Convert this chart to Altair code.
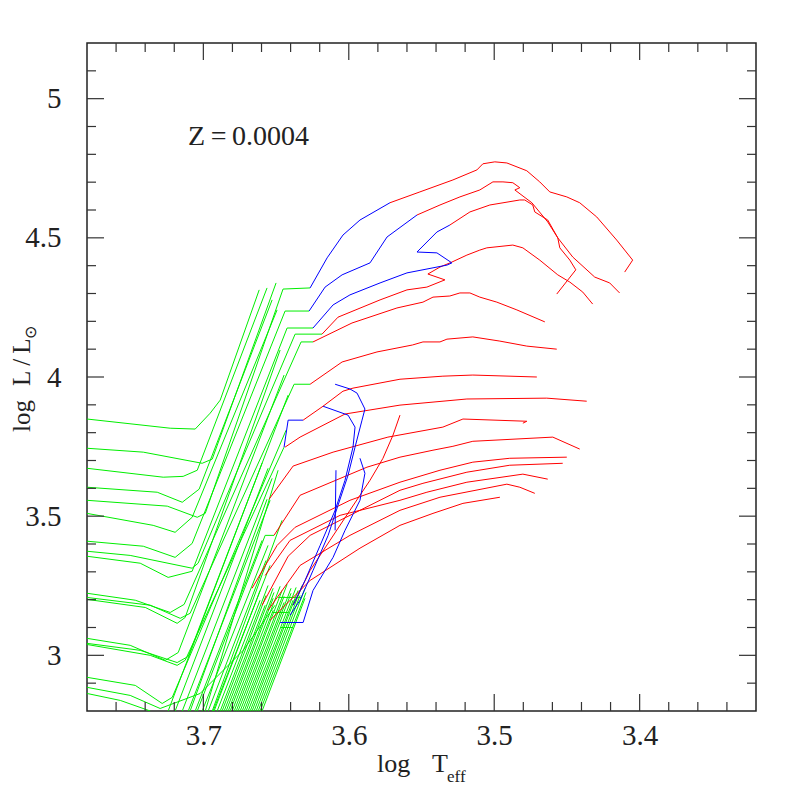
import altair as alt
import pandas as pd

# ---------------- axis values ----------------
X_MAJOR = [3.4, 3.5, 3.6, 3.7]
X_MINOR = [3.34, 3.36, 3.38, 3.42, 3.44, 3.46, 3.48, 3.52, 3.54, 3.56, 3.58,
           3.62, 3.64, 3.66, 3.68, 3.72, 3.74, 3.76]
Y_MAJOR = [3.0, 3.5, 4.0, 4.5, 5.0]
Y_MINOR = [2.9, 3.1, 3.2, 3.3, 3.4, 3.6, 3.7, 3.8, 3.9, 4.1, 4.2, 4.3, 4.4,
           4.6, 4.7, 4.8, 4.9, 5.1]

# ---------------- green: core-He-burning + early-AGB tracks (logTeff, logL) ----------------
G_HB1 = [(3.78, 3.849), (3.7228, 3.816), (3.7056, 3.813), (3.6953, 3.870), (3.6884, 3.917), (3.6616, 4.313)]
G_HB2 = [(3.78, 3.744), (3.7413, 3.730), (3.7008, 3.690), (3.6939, 3.705), (3.6500, 4.338)]
G_HB3 = [(3.78, 3.672), (3.7276, 3.640), (3.7139, 3.643), (3.7042, 3.665), (3.6562, 4.320)]
G_HB4 = [(3.78, 3.604), (3.7317, 3.586), (3.7145, 3.550), (3.7029, 3.597), (3.6527, 4.277)]
G_HB5 = [(3.78, 3.557), (3.7248, 3.536), (3.7042, 3.496), (3.6987, 3.510), (3.6452, 4.316), (3.6266, 4.320)]
G_HB6 = [(3.78, 3.510), (3.7345, 3.467), (3.7194, 3.442), (3.7077, 3.496), (3.6493, 4.241)]
G_HB7 = [(3.78, 3.410), (3.7413, 3.392), (3.7194, 3.352), (3.7077, 3.402), (3.6438, 4.237), (3.6273, 4.237)]
G_HB8 = [(3.78, 3.374), (3.7503, 3.359), (3.7077, 3.313), (3.7036, 3.331), (3.6369, 4.154), (3.6184, 4.154)]
G_HB9 = [(3.78, 3.356), (3.7434, 3.331), (3.7242, 3.280), (3.7077, 3.302), (3.6424, 4.176), (3.6246, 4.176)]
G_HB10 = [(3.78, 3.223), (3.7468, 3.198), (3.7228, 3.154), (3.7132, 3.183), (3.6328, 4.126), (3.6246, 4.126)]
G_HB11 = [(3.78, 3.208), (3.7365, 3.180), (3.7159, 3.133), (3.7091, 3.151), (3.6376, 3.974), (3.6266, 3.974)]
G_HB12 = [(3.78, 3.201), (3.7399, 3.172), (3.7180, 3.115), (3.7125, 3.136), (3.6472, 4.097)]
G_HB13 = [(3.78, 3.061), (3.7503, 3.036), (3.7262, 2.982), (3.7173, 3.010), (3.6445, 4.007)]
G_HB14 = [(3.78, 3.043), (3.7434, 3.018), (3.7180, 2.974), (3.7104, 2.996), (3.6417, 3.935)]
G_HB15 = [(3.78, 3.039), (3.7365, 3.000), (3.7180, 2.964), (3.7125, 2.982), (3.6445, 3.748)]
G_HB16 = [(3.78, 2.921), (3.7468, 2.892), (3.7283, 2.827), (3.7214, 2.849), (3.6431, 3.809)]
G_HB17 = [(3.78, 2.885), (3.7503, 2.856), (3.7297, 2.809), (3.7022, 2.863), (3.6726, 3.018), (3.6507, 3.180)]
G_HB18 = [(3.78, 2.863), (3.7571, 2.838), (3.7365, 2.800)]
# long early-AGB lines entering from the bottom edge
G_LB1 = [(3.7091, 2.800), (3.6562, 3.561)]
G_LB2 = [(3.7042, 2.800), (3.6575, 3.431), (3.6514, 3.431)]
G_LB3 = [(3.6987, 2.800), (3.6486, 3.665)]
G_LB4 = [(3.6939, 2.800), (3.6459, 3.485)]
G_LB5 = [(3.7242, 2.800), (3.6596, 3.691)]
G_LB6 = [(3.7194, 2.800), (3.6555, 3.672)]
G_LB7 = [(3.7145, 2.800), (3.6527, 3.636)]
G_LB8 = [(3.7104, 2.800), (3.6541, 3.557)]
G_LB9 = [(3.7056, 2.800), (3.6596, 3.413)]
G_LB10 = [(3.7008, 2.800), (3.6555, 3.395)]
G_LB11 = [(3.6967, 2.800), (3.6569, 3.341)]
G_LB12 = [(3.6933, 2.800), (3.6541, 3.323)]
G_H1 = [(3.6486, 3.208), (3.6321, 3.208)]
G_H2 = [(3.6527, 3.154), (3.6417, 3.154)]
G_H3 = [(3.6472, 3.100), (3.6383, 3.100)]

# red-giant-branch bundle: start at the bottom edge, end at the tip
RGB_BOTTOM_T = [3.6926, 3.6905, 3.6884, 3.6871, 3.6857, 3.6843, 3.6829, 3.6816, 3.6802, 3.6788,
                3.6774, 3.6761, 3.6747, 3.6733, 3.6719, 3.6706, 3.6692, 3.6678, 3.6665, 3.6651,
                3.6637, 3.6623, 3.6610, 3.6596]
RGB_TIP_T = [3.6610, 3.6610, 3.6555, 3.6569, 3.6575, 3.6520, 3.6514, 3.6520, 3.6472, 3.6520,
             3.6459, 3.6424, 3.6445, 3.6445, 3.6397, 3.6397, 3.6362, 3.6383, 3.6349, 3.6321,
             3.6335, 3.6301, 3.6294, 3.6301]
RGB_TIP_L = [3.233, 3.198, 3.251, 3.215, 3.180, 3.241, 3.226, 3.205, 3.248, 3.162,
             3.233, 3.255, 3.212, 3.190, 3.241, 3.223, 3.244, 3.198, 3.233, 3.251,
             3.215, 3.241, 3.226, 3.205]

# ---------------- red: TP-AGB (O-rich) ----------------
R1 = [(3.5717, 4.626), (3.5511, 4.665), (3.5284, 4.708), (3.5119, 4.744), (3.5078, 4.766), (3.4996, 4.773),
      (3.4913, 4.769), (3.4776, 4.741), (3.4687, 4.701), (3.4618, 4.665), (3.4501, 4.647), (3.4412, 4.626),
      (3.4295, 4.575), (3.4158, 4.492), (3.4048, 4.420), (3.4103, 4.377)]
R2 = [(3.5531, 4.582), (3.5373, 4.618), (3.5236, 4.647), (3.5099, 4.672), (3.5009, 4.701), (3.4940, 4.701),
      (3.4872, 4.698), (3.4824, 4.680), (3.4858, 4.672), (3.4741, 4.626), (3.4632, 4.557), (3.4563, 4.500),
      (3.4460, 4.431), (3.4309, 4.359), (3.4206, 4.338), (3.4138, 4.302)]
R3 = [(3.5305, 4.546), (3.5167, 4.593), (3.5030, 4.618), (3.4824, 4.636), (3.4790, 4.636), (3.4735, 4.618),
      (3.4721, 4.593), (3.4632, 4.564), (3.4563, 4.500), (3.4549, 4.464), (3.4480, 4.420), (3.4439, 4.385),
      (3.4570, 4.298)]
R4 = [(3.6184, 4.154), (3.6074, 4.215), (3.5785, 4.277), (3.5600, 4.313), (3.5463, 4.323), (3.5339, 4.349),
      (3.5456, 4.370), (3.5373, 4.395), (3.5291, 4.413), (3.5188, 4.438), (3.5099, 4.456), (3.5051, 4.464),
      (3.4872, 4.474), (3.4803, 4.464), (3.4687, 4.420), (3.4563, 4.367), (3.4480, 4.341), (3.4391, 4.305),
      (3.4323, 4.262)]
R5 = [(3.6246, 4.126), (3.5978, 4.194), (3.5669, 4.248), (3.5490, 4.269), (3.5421, 4.287), (3.5305, 4.291),
      (3.5236, 4.302), (3.5167, 4.302), (3.5099, 4.287), (3.4982, 4.269), (3.4844, 4.241), (3.4652, 4.198)]
R6 = [(3.6266, 3.974), (3.6046, 4.054), (3.5806, 4.090), (3.5562, 4.115), (3.5490, 4.126), (3.5373, 4.126),
      (3.5325, 4.136), (3.5147, 4.144), (3.4961, 4.129), (3.4776, 4.111), (3.4570, 4.100)]
R7 = [(3.6314, 3.845), (3.6177, 3.895), (3.6040, 3.949), (3.5971, 3.960), (3.5648, 3.992), (3.5353, 4.003),
      (3.5147, 4.007), (3.4707, 4.000)]
R8 = [(3.6438, 3.748), (3.6335, 3.784), (3.6026, 3.867), (3.5648, 3.899), (3.5188, 3.921), (3.4639, 3.924),
      (3.4364, 3.913)]
R9 = [(3.6548, 3.561), (3.6383, 3.680), (3.6108, 3.730), (3.5731, 3.784), (3.5353, 3.820), (3.5215, 3.849),
      (3.4776, 3.841), (3.4803, 3.834)]
R10 = [(3.6514, 3.431), (3.6335, 3.575), (3.5875, 3.676), (3.5648, 3.712), (3.5421, 3.737), (3.5284, 3.751),
       (3.5147, 3.769), (3.4597, 3.784), (3.4412, 3.741)]
R11 = [(3.6665, 3.241), (3.6493, 3.395), (3.6369, 3.460), (3.5992, 3.557), (3.5648, 3.622), (3.5373, 3.665),
       (3.5147, 3.694), (3.4893, 3.708), (3.4501, 3.712)]
R12 = [(3.6596, 3.180), (3.6417, 3.356), (3.6266, 3.431), (3.5923, 3.521), (3.5648, 3.593), (3.5490, 3.618),
       (3.5188, 3.658), (3.4893, 3.683), (3.4529, 3.690)]
R13 = [(3.6575, 3.287), (3.6404, 3.413), (3.6060, 3.503), (3.5648, 3.557), (3.5463, 3.586), (3.5188, 3.622),
       (3.4803, 3.651), (3.4632, 3.633)]
R14 = [(3.6555, 3.162), (3.6335, 3.323), (3.5992, 3.431), (3.5648, 3.521), (3.5373, 3.568), (3.4913, 3.615),
       (3.4824, 3.604), (3.4721, 3.582)]
R15 = [(3.6541, 3.126), (3.6266, 3.269), (3.5923, 3.385), (3.5648, 3.467), (3.5421, 3.510), (3.5215, 3.546),
       (3.4961, 3.568)]
R16 = [(3.5648, 3.863), (3.5696, 3.791), (3.5765, 3.708), (3.5854, 3.629), (3.5992, 3.521), (3.6129, 3.413),
       (3.6266, 3.305), (3.6383, 3.180)]

# ---------------- blue: TP-AGB (C-rich) ----------------
B1 = [(3.6266, 4.320), (3.6149, 4.428), (3.6040, 4.510), (3.5923, 4.564), (3.5717, 4.626)]
B2 = [(3.6273, 4.237), (3.6163, 4.323), (3.6046, 4.367), (3.5854, 4.410), (3.5737, 4.503), (3.5531, 4.582)]
B3 = [(3.6246, 4.176), (3.6108, 4.259), (3.5992, 4.295), (3.5785, 4.338), (3.5600, 4.374), (3.5325, 4.402),
      (3.5291, 4.410), (3.5394, 4.446), (3.5531, 4.449), (3.5394, 4.521), (3.5305, 4.546)]
B4 = [(3.6445, 3.748), (3.6417, 3.845), (3.6314, 3.845)]
B5 = [(3.6094, 3.974), (3.5992, 3.957), (3.5943, 3.942), (3.5889, 3.885), (3.5909, 3.845), (3.5957, 3.748),
      (3.6005, 3.647), (3.6074, 3.539), (3.6142, 3.431), (3.6246, 3.305), (3.6335, 3.198), (3.6404, 3.144)]
B6 = [(3.6177, 3.895), (3.6005, 3.863), (3.5957, 3.820), (3.5971, 3.748), (3.6026, 3.629), (3.6094, 3.521),
      (3.6197, 3.395), (3.6301, 3.269), (3.6383, 3.180)]
B7 = [(3.5923, 3.708), (3.5889, 3.654), (3.5923, 3.557), (3.6026, 3.449), (3.6108, 3.352), (3.6246, 3.233),
      (3.6314, 3.118), (3.6472, 3.118)]
B8 = [(3.6088, 3.665), (3.6094, 3.449)]

GREEN = [G_HB1, G_HB2, G_HB3, G_HB4, G_HB5, G_HB6, G_HB7, G_HB8, G_HB9, G_HB10, G_HB11, G_HB12,
         G_HB13, G_HB14, G_HB15, G_HB16, G_HB17, G_HB18, G_LB1, G_LB2, G_LB3, G_LB4, G_LB5, G_LB6,
         G_LB7, G_LB8, G_LB9, G_LB10, G_LB11, G_LB12, G_H1, G_H2, G_H3]
for bt, tt, tl in zip(RGB_BOTTOM_T, RGB_TIP_T, RGB_TIP_L):
    GREEN.append([(bt, 2.8), (tt, tl)])
RED = [R1, R2, R3, R4, R5, R6, R7, R8, R9, R10, R11, R12, R13, R14, R15, R16]
BLUE = [B1, B2, B3, B4, B5, B6, B7, B8]


def to_frame(tracks, prefix):
    rows = []
    for k, tr in enumerate(tracks):
        for i, (t, l) in enumerate(tr):
            rows.append({"track": f"{prefix}{k}", "i": i, "T": t, "L": l})
    return pd.DataFrame(rows)


W, H = 669, 668
XS = alt.Scale(domain=[3.32, 3.78], reverse=True, nice=False, zero=False)
YS = alt.Scale(domain=[2.8, 5.2], nice=False, zero=False)
FONT = "Liberation Serif"
AX_X = alt.Axis(values=X_MAJOR, format="~g", title=None, ticks=False, tickSize=0, domain=False, grid=False,
                labelFont=FONT, labelFontSize=29, labelColor="#222", labelPadding=10, labelFontWeight="normal")
AX_Y = alt.Axis(values=Y_MAJOR, format="~g", title=None, ticks=False, tickSize=0, domain=False, grid=False,
                labelFont=FONT, labelFontSize=29, labelColor="#222", labelPadding=26, labelFontWeight="normal")


def lines(tracks, prefix, color, width=1.0):
    return alt.Chart(to_frame(tracks, prefix)).mark_line(clip=True, color=color, strokeWidth=width).encode(
        x=alt.X("T:Q", scale=XS, axis=AX_X),
        y=alt.Y("L:Q", scale=YS, axis=AX_Y),
        detail="track:N",
        order="i:Q",
    )


green = lines(GREEN, "g", "#00ee00")
red = lines(RED, "r", "#ff0000")
blue = lines(BLUE, "b", "#0000ff")

TICK_COLOR = "#333"


def xticks(vals, length):
    d = pd.DataFrame({"v": vals})
    base = alt.Chart(d).mark_rule(color=TICK_COLOR, strokeWidth=1.2)
    bottom = base.encode(x=alt.X("v:Q", scale=XS, axis=AX_X), y=alt.value(H), y2=alt.value(H - length))
    top = base.encode(x=alt.X("v:Q", scale=XS, axis=AX_X), y=alt.value(0), y2=alt.value(length))
    return [bottom, top]


def yticks(vals, length):
    d = pd.DataFrame({"v": vals})
    base = alt.Chart(d).mark_rule(color=TICK_COLOR, strokeWidth=1.2)
    left = base.encode(y=alt.Y("v:Q", scale=YS, axis=AX_Y), x=alt.value(0), x2=alt.value(length))
    right = base.encode(y=alt.Y("v:Q", scale=YS, axis=AX_Y), x=alt.value(W), x2=alt.value(W - length))
    return [left, right]


ticks = xticks(X_MAJOR, 17) + xticks(X_MINOR, 9) + yticks(Y_MAJOR, 17) + yticks(Y_MINOR, 9)

one = pd.DataFrame({"a": [0]})


def label(text, x, y, size, angle=0, align="left", baseline="alphabetic"):
    kw = dict(text=text, fontSize=size, font=FONT, color="#222", align=align, baseline=baseline)
    if angle:
        kw["angle"] = angle
    return alt.Chart(one).mark_text(**kw).encode(x=alt.value(x), y=alt.value(y))


texts = [
    label("Z\u2009=\u20090.0004", 101, 102, 28),
    label("log", 290, 729, 26),
    label("T", 345, 729, 26),
    label("eff", 360, 739, 17),
    label("log", -57, 389, 25, angle=270),
    label("L\u2009/\u2009L", -57, 343, 25, angle=270),
    label("\u2299", -51, 296, 16, angle=270),
]

chart = alt.layer(green, red, blue, *ticks, *texts).properties(
    width=W, height=H, padding={"left": 79, "top": 35, "right": 30, "bottom": 90}, autosize="none"
).configure_view(stroke="#222", strokeWidth=1.5)

chart.save("out.html", embed_options={"renderer": "svg", "actions": False})
